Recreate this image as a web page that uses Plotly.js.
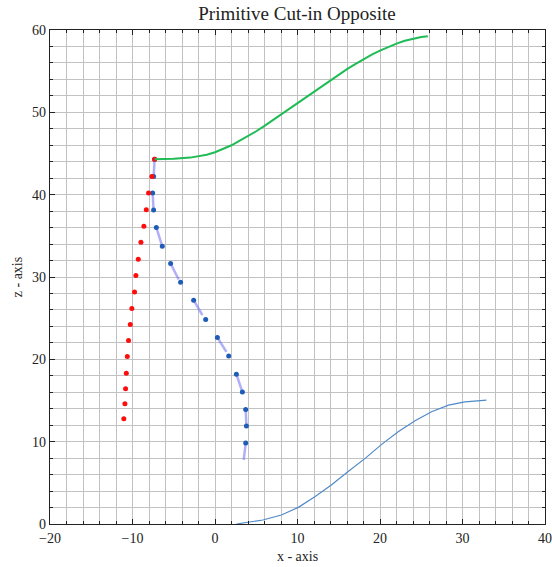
<!DOCTYPE html>
<html>
<head>
<meta charset="utf-8">
<script src="https://cdn.plot.ly/plotly-3.0.1.min.js"></script>
<style>html,body{margin:0;padding:0;background:#fff;}#chart{width:552px;height:567px;}</style>
</head>
<body>
<div id="chart"></div>
<script>
// Green trajectory
var greenX = [-7.32, -5, -3, -1, 0, 1, 2, 3, 4, 5, 6, 7, 8, 9, 10, 11, 12, 13, 14, 15, 16, 17, 18, 19, 20, 21, 22, 23, 24, 25, 25.8];
var greenZ = [44.29, 44.35, 44.5, 44.85, 45.15, 45.55, 46.0, 46.55, 47.1, 47.7, 48.35, 49.05, 49.75, 50.45, 51.15, 51.85, 52.55, 53.25, 53.95, 54.6, 55.25, 55.85, 56.45, 57.0, 57.5, 57.95, 58.35, 58.7, 58.95, 59.15, 59.25];

// Blue (bottom) trajectory
var blueLineX = [2.6, 3.8, 5.8, 8.05, 10.1, 12.1, 14.1, 16.1, 18.2, 20.2, 22.2, 24.2, 26.25, 28.3, 30.3, 32.9];
var blueLineZ = [0, 0.16, 0.49, 1.09, 2.02, 3.32, 4.73, 6.35, 7.97, 9.67, 11.2, 12.5, 13.63, 14.44, 14.84, 15.04];

// Red points
var redX = [-7.32, -7.65, -8.05, -8.33, -8.62, -8.98, -9.30, -9.59, -9.75, -10.08, -10.27, -10.48, -10.63, -10.75, -10.84, -10.92, -11.05];
var redZ = [44.29, 42.22, 40.2, 38.18, 36.16, 34.21, 32.15, 30.17, 28.19, 26.17, 24.23, 22.29, 20.35, 18.32, 16.42, 14.6, 12.78];

// Blue points
var blueDotX = [-7.32, -7.44, -7.56, -7.44, -7.11, -6.39, -5.38, -4.17, -2.59, -1.13, 0.29, 1.66, 2.59, 3.32, 3.72, 3.81, 3.72];
var blueDotZ = [44.29, 42.22, 40.2, 38.13, 36.0, 33.73, 31.63, 29.36, 27.18, 24.84, 22.65, 20.42, 18.2, 16.02, 13.92, 11.89, 9.83];

// Light segments
var segStartX = [-7.32, -7.56, -7.11, -5.38, -2.59, 0.29, 2.59, 3.72, 3.72];
var segStartZ = [44.29, 40.2, 36.0, 31.63, 27.18, 22.65, 18.2, 13.92, 9.83];
var segEndX = [-7.44, -7.44, -6.39, -4.4, -1.53, 1.38, 3.32, 3.81, 3.48];
var segEndZ = [42.22, 38.13, 33.73, 29.7, 25.36, 20.9, 16.02, 11.89, 7.8];

var sx = [], sz = [];
for (var i = 0; i < segStartX.length; i++) {
  sx.push(segStartX[i], segEndX[i], null);
  sz.push(segStartZ[i], segEndZ[i], null);
}

var serif = "Liberation Serif, Times New Roman, serif";

var traces = [
  {x: sx, y: sz, mode: 'lines', line: {color: 'rgba(110,110,245,0.55)', width: 2.5}, hoverinfo: 'skip', showlegend: false},
  {x: blueLineX, y: blueLineZ, mode: 'lines', line: {color: '#4f8ac8', width: 1.2}, showlegend: false},
  {x: blueDotX, y: blueDotZ, mode: 'markers', marker: {color: '#1f5cb8', size: 5}, showlegend: false},
  {x: redX, y: redZ, mode: 'markers', marker: {color: '#ff0d0d', size: 5}, showlegend: false},
  {x: greenX, y: greenZ, mode: 'lines', line: {color: '#1fbb55', width: 2}, showlegend: false}
];

function axis(title, lo, hi, standoff) {
  return {
    range: [lo, hi],
    dtick: 10,
    tick0: 0,
    ticks: 'inside',
    ticklen: 5,
    tickwidth: 1,
    tickcolor: '#222',
    mirror: 'allticks',
    showline: true,
    linecolor: '#222',
    linewidth: 1.2,
    showgrid: true,
    gridcolor: '#c2c2c2',
    gridwidth: 1,
    zeroline: false,
    ticklabelstandoff: standoff,
    minor: {dtick: 2, ticks: 'inside', ticklen: 3, tickcolor: '#222', showgrid: true, gridcolor: '#c2c2c2', gridwidth: 1},
    tickfont: {family: serif, size: 14, color: '#222'},
    title: {text: title, font: {family: serif, size: 14, color: '#222'}, standoff: 6}
  };
}

var layout = {
  width: 552,
  height: 567,
  margin: {l: 50, r: 7, t: 30, b: 43},
  paper_bgcolor: '#fff',
  plot_bgcolor: '#fff',
  title: {text: 'Primitive Cut-in Opposite', font: {family: serif, size: 19, color: '#222'}, x: 0.538, xanchor: 'center', y: 0.976, yanchor: 'middle'},
  xaxis: axis('x - axis', -20, 40, 1),
  yaxis: axis('z - axis', 0, 60, 0),
  showlegend: false
};

Plotly.newPlot('chart', traces, layout, {displayModeBar: false, staticPlot: true});
</script>
</body>
</html>
